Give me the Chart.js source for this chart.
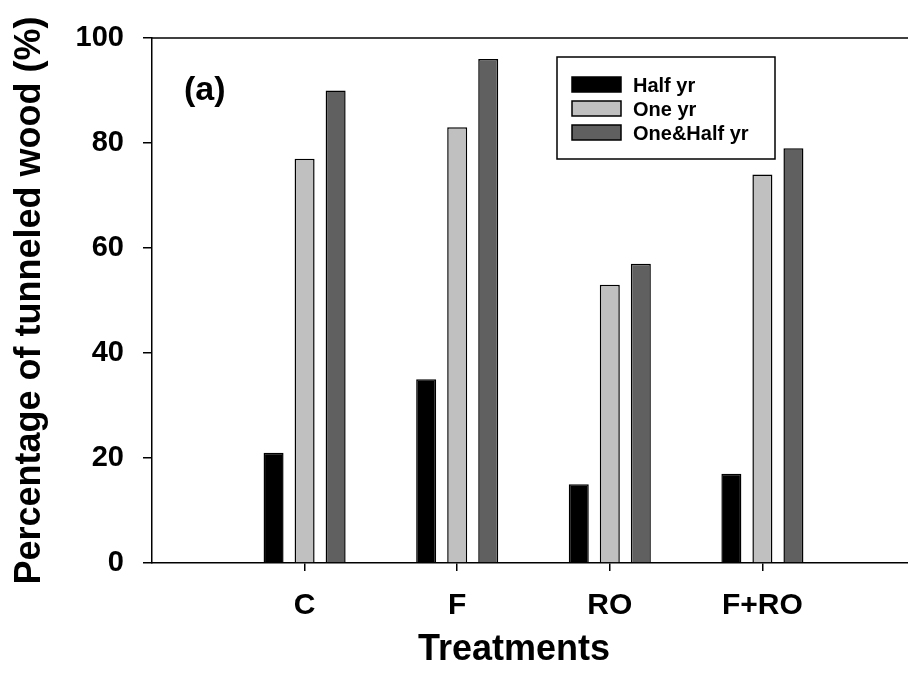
<!DOCTYPE html>
<html>
<head>
<meta charset="utf-8">
<script src="https://cdn.jsdelivr.net/npm/chart.js@4"></script>
<style>
  html, body { margin: 0; padding: 0; background: #fff; overflow: hidden; }
  #wrap { width: 932px; height: 694px; }
</style>
</head>
<body>
<div id="wrap"><canvas id="woodChart" width="932" height="694"></canvas></div>
<script>
// Data
const treatments = ['C', 'F', 'RO', 'F+RO'];
const halfYr = [21, 35, 15, 17];
const oneYr = [77, 83, 53, 74];
const oneHalfYr = [90, 96, 57, 79];
const seriesNames = ['Half yr', 'One yr', 'One&Half yr'];
const yTicks = [0, 20, 40, 60, 80, 100];
const yTitle = 'Percentage of tunneled wood (%)';
const xTitle = 'Treatments';
const panelLabel = '(a)';

const FONT = '"Liberation Sans", Arial, Helvetica, sans-serif';
const colors = ['#000000', '#c0c0c0', '#606060'];

// empty slot at each side so the groups sit like the original
const labels = [''].concat(treatments, ['']);
const pad = arr => [null].concat(arr, [null]);

const extras = {
  id: 'extras',
  afterDraw(chart) {
    const ctx = chart.ctx;
    const area = chart.chartArea;
    ctx.save();
    ctx.strokeStyle = '#000';
    ctx.lineWidth = 1.5;

    // top frame line
    ctx.beginPath();
    ctx.moveTo(area.left, area.top);
    ctx.lineTo(chart.width, area.top);
    ctx.stroke();

    // panel label
    ctx.fillStyle = '#000';
    ctx.font = 'bold 34px ' + FONT;
    ctx.textAlign = 'left';
    ctx.textBaseline = 'alphabetic';
    ctx.fillText(panelLabel, area.left + 32, area.top + 62);

    // legend box
    const lx = area.left + 405, ly = area.top + 19;
    ctx.strokeRect(lx, ly, 218, 102);
    ctx.font = 'bold 20px ' + FONT;
    chart.data.datasets.forEach((ds, i) => {
      const sy = ly + 20 + i * 24;
      ctx.fillStyle = ds.backgroundColor;
      ctx.fillRect(lx + 15, sy, 49, 15);
      ctx.strokeRect(lx + 15, sy, 49, 15);
      ctx.fillStyle = '#000';
      ctx.fillText(ds.label, lx + 76, sy + 15);
    });

    // x axis title
    ctx.font = 'bold 36px ' + FONT;
    ctx.textAlign = 'center';
    ctx.textBaseline = 'middle';
    ctx.fillText(xTitle, 514, 650);
    ctx.restore();
  }
};

new Chart(document.getElementById('woodChart').getContext('2d'), {
  type: 'bar',
  data: {
    labels: labels,
    datasets: [halfYr, oneYr, oneHalfYr].map((vals, i) => ({
      label: seriesNames[i],
      data: pad(vals),
      backgroundColor: colors[i],
      borderColor: '#000',
      borderWidth: 1.5,
      categoryPercentage: 0.61,
      barPercentage: 0.645
    }))
  },
  options: {
    responsive: false,
    animation: false,
    devicePixelRatio: 1,
    layout: { padding: { top: 38, right: 0, left: 0, bottom: 0 } },
    plugins: {
      legend: { display: false },
      tooltip: { enabled: false }
    },
    scales: {
      x: {
        offset: false,
        grid: {
          offset: false,
          drawOnChartArea: false,
          tickLength: 8,
          lineWidth: 1.5,
          color: c => (labels[c.index] === '' ? 'rgba(0,0,0,0)' : '#000')
        },
        border: { color: '#000', width: 1.5 },
        ticks: {
          color: '#000',
          padding: 17,
          maxRotation: 0,
          autoSkip: false,
          font: { family: FONT, size: 30, weight: 'bold' }
        },
        afterFit: s => { s.height = 131; }
      },
      y: {
        min: 0,
        max: 100,
        afterBuildTicks: s => { s.ticks = yTicks.map(v => ({ value: v })); },
        grid: { drawOnChartArea: false, tickLength: 9, lineWidth: 1.5, color: '#000' },
        border: { color: '#000', width: 1.5 },
        ticks: {
          color: '#000',
          padding: 19,
          font: { family: FONT, size: 29, weight: 'bold' }
        },
        title: {
          display: true,
          text: yTitle,
          color: '#000',
          padding: { top: 8, bottom: 0 },
          font: { family: FONT, size: 36, weight: 'bold' }
        },
        afterFit: s => { s.width = 152; }
      }
    }
  },
  plugins: [extras]
});
</script>
</body>
</html>
